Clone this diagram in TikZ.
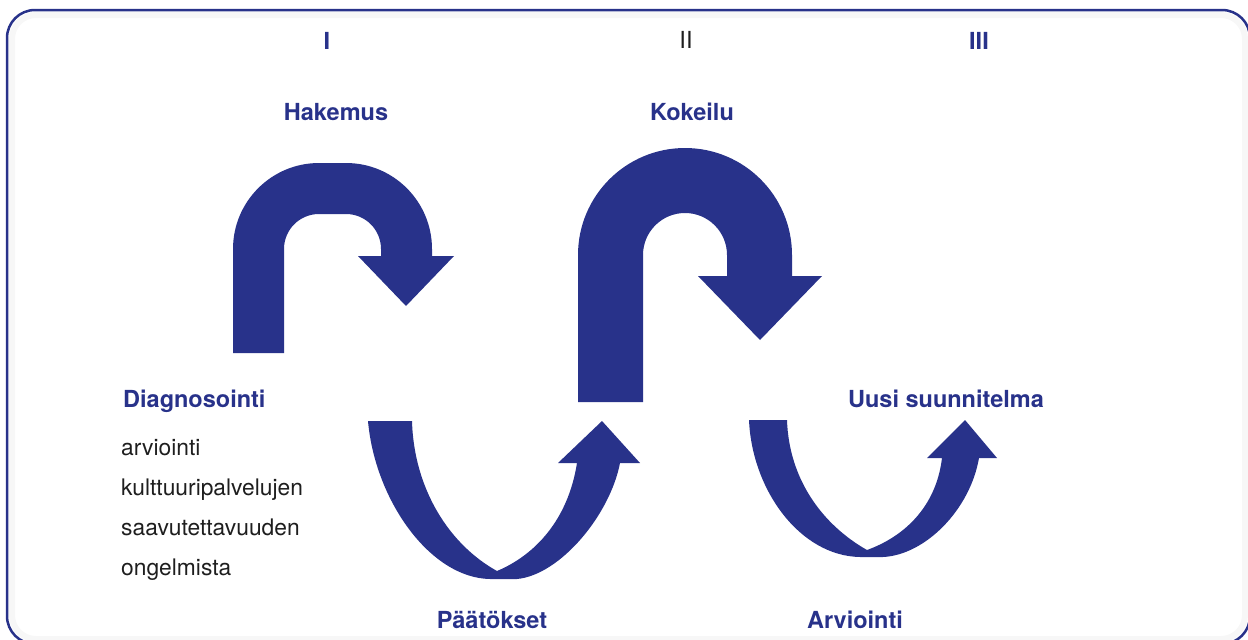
\documentclass[tikz,border=0pt]{standalone}
\usepackage{fontspec}
\setmainfont{TeX Gyre Heros}
\definecolor{navy}{RGB}{40,50,138}
\definecolor{ink}{RGB}{30,30,30}

\begin{document}
\begin{tikzpicture}[x=1pt,y=-1pt,
 head/.style={navy, font=\fontsize{23.5}{28}\selectfont\bfseries, inner sep=0},
 body/.style={ink, font=\fontsize{22.8}{27}\selectfont, inner sep=0},
 arrowfill/.style={fill=navy}]
\useasboundingbox (0,0) rectangle (1248,640);
% frame
\draw[black!3, line width=6, rounded corners=24] (12,15) rectangle (1245,639);
\draw[navy, line width=2.5, rounded corners=28] (7,10) rectangle (1250,644);

% phase numbers
\node[head, anchor=base] (phaseI) at (327,49) {I};
\node[ink, font=\fontsize{23.5}{28}\selectfont, inner sep=0, anchor=base] (phaseII) at (686,48) {II};
\node[head, anchor=base] (phaseIII) at (979,49) {III};

% headings
\node[head, anchor=base] (hakemus) at (336,120) {Hakemus};
\node[head, anchor=base] (kokeilu) at (692,120) {Kokeilu};
\node[head, anchor=base west] (diagnos) at (123,407) {Diagnosointi};
\node[head, anchor=base] (uusi) at (946,407) {Uusi suunnitelma};
\node[head, anchor=base] (paatos) at (492,628) {Päätökset};
\node[head, anchor=base] (arvio) at (855,628) {Arviointi};
\foreach \w [count=\i] in {arviointi,kulttuuripalvelujen,saavutettavuuden,ongelmista} {
 \node[body, anchor=base west] (line\i) at (121,415+40*\i) {\w};
}

% hook arrow I
\fill[arrowfill] (233,353) -- (233,249) arc[start angle=180, end angle=270, radius=86]
 -- (346,163) arc[start angle=270, end angle=360, radius=86]
 -- (432,256) -- (454,256) -- (406,306) -- (358,256) -- (381,256) -- (381,249)
 arc[start angle=0, end angle=-90, radius=35] -- (319,214)
 arc[start angle=270, end angle=180, radius=35] -- (284,353) -- cycle;

% hook arrow II
\fill[arrowfill] (578,402) -- (578,255) arc[start angle=180, end angle=360, radius=107]
 -- (792,276) -- (822,276) -- (760,340) -- (698,276) -- (727,276) -- (727,255)
 arc[start angle=0, end angle=-180, radius=42] -- (643,402) -- cycle;

% bottom arrow I-II
\fill[arrowfill] (368,421) -- (412,421) .. controls (414,490) and (450,545) .. (497,571)
 .. controls (535,555) and (568,520) .. (577,463) -- (558,463) -- (602,421) -- (640,463) -- (620,463)
 .. controls (610,515) and (560,575) .. (517,579) -- (490,579)
 .. controls (430,578) and (375,500) .. (368,421) -- cycle;

% bottom arrow II-III
\fill[arrowfill] (749,420) -- (787,420) .. controls (789,480) and (823,525) .. (867,550)
 .. controls (903,537) and (936,508) .. (942,458) -- (927,458) -- (965,420) -- (997,458) -- (979,458)
 .. controls (970,510) and (925,555) .. (883,557) -- (860,557)
 .. controls (800,556) and (752,490) .. (749,420) -- cycle;
\end{tikzpicture}
\end{document}
